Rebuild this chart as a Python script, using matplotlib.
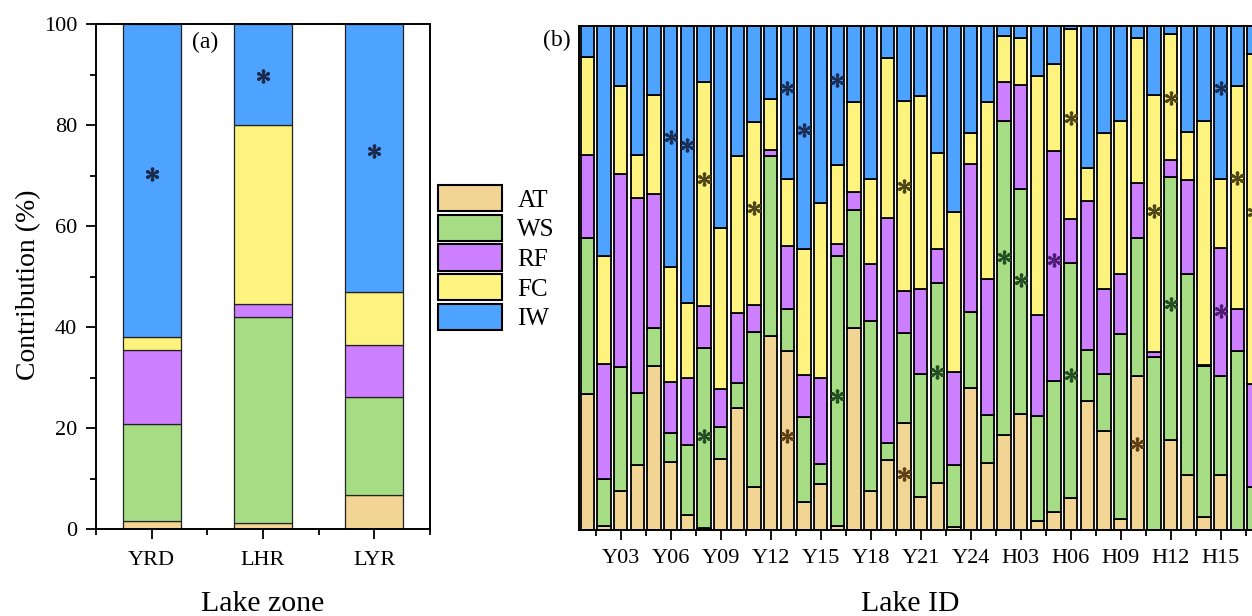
import numpy as np
import matplotlib
matplotlib.use("Agg")
import matplotlib.pyplot as plt
import matplotlib.patches as mpatches

plt.rcParams["font.family"] = ["Liberation Serif", "DejaVu Serif"]
plt.rcParams["mathtext.fontset"] = "stix"

factors = ["AT", "WS", "RF", "FC", "IW"]
colors = ["#F2D494", "#A6DD84", "#CC80FF", "#FFF380", "#4DA3FF"]
star_colors = {"AT": "#5e3f16", "WS": "#234d23", "RF": "#4e1c72",
               "FC": "#4f4618", "IW": "#1a2d55"}

# (a) lake zones, contribution (%) of each factor
zones = ["YRD", "LHR", "LYR"]
zone_AT = [1.6, 1.2, 6.8]
zone_WS = [19.2, 40.7, 19.4]
zone_RF = [14.6, 2.7, 10.2]
zone_FC = [2.6, 35.4, 10.5]
zone_IW = [62.0, 20.0, 53.1]
zone_star_factor = ["IW", "IW", "IW"]
zone_star_y = [70.2, 89.8, 74.8]

# (b) individual lakes
lakes = ["Y%02d" % i for i in range(1, 25)] + ["H%02d" % i for i in range(1, 18)]
lake_AT = [26.9, 0.8, 7.7, 12.8, 32.5, 13.4, 3.0, 0.3, 14.1, 24.3, 8.5, 38.4,
           35.6, 5.5, 9.1, 0.8, 40.0, 7.8, 13.9, 21.2, 6.5, 9.4, 0.5, 28.2,
           13.2, 18.8, 23.0, 1.8, 3.5, 6.3, 25.5, 19.7, 2.1, 30.6, 0.0, 17.9,
           10.9, 2.6, 10.9, 0.0, 0.0]
lake_WS = [31.0, 9.3, 24.6, 14.3, 7.6, 5.8, 13.9, 35.9, 6.4, 4.8, 30.7, 35.9,
           8.2, 16.9, 4.0, 53.6, 23.5, 33.7, 3.4, 17.8, 24.5, 39.6, 12.3, 15.0,
           9.6, 62.4, 44.6, 20.9, 26.1, 46.6, 10.3, 11.2, 36.7, 27.4, 34.3, 52.1,
           39.8, 29.9, 19.7, 35.6, 8.6]
lake_RF = [16.5, 22.8, 38.3, 38.8, 26.6, 10.2, 13.2, 8.2, 7.4, 13.9, 5.4, 1.1,
           12.6, 8.4, 17.1, 2.3, 3.6, 11.2, 44.7, 8.4, 16.8, 6.8, 18.6, 29.4,
           27.0, 7.7, 20.7, 20.0, 45.5, 8.8, 29.5, 16.9, 11.9, 10.8, 1.1, 3.4,
           18.7, 0.3, 25.3, 8.2, 20.3]
lake_FC = [19.5, 21.5, 17.4, 8.5, 19.7, 22.8, 15.0, 44.4, 32.0, 31.2, 36.4, 10.1,
           13.2, 24.9, 34.6, 15.7, 17.8, 16.9, 31.7, 37.7, 38.4, 19.1, 31.6, 6.1,
           35.1, 9.2, 9.3, 47.4, 17.3, 37.8, 6.5, 30.9, 30.5, 28.9, 50.9, 25.1,
           9.5, 48.4, 13.7, 44.3, 65.5]
lake_IW = [6.1, 45.6, 12.0, 25.6, 13.6, 47.8, 54.9, 11.2, 40.1, 25.8, 19.0, 14.5,
           30.4, 44.3, 35.2, 27.6, 15.1, 30.4, 6.3, 14.9, 13.8, 25.1, 37.0, 21.3,
           15.1, 1.9, 2.4, 9.9, 7.6, 0.5, 28.2, 21.3, 18.8, 2.3, 13.7, 1.5,
           21.1, 18.8, 30.4, 11.9, 5.6]
star_lake = ["Y06", "Y07", "Y08", "Y08", "Y11", "Y13", "Y13", "Y14", "Y16", "Y16",
             "Y20", "Y20", "Y22", "H02", "H03", "H05", "H06", "H06", "H10", "H11",
             "H12", "H12", "H15", "H15", "H16", "H17"]
star_factor = ["IW", "IW", "FC", "WS", "FC", "IW", "AT", "IW", "IW", "WS",
               "FC", "AT", "WS", "WS", "WS", "RF", "FC", "WS", "AT", "FC",
               "FC", "WS", "IW", "RF", "FC", "FC"]
star_y = [78.0, 76.3, 69.6, 18.7, 63.8, 87.6, 18.7, 79.4, 89.3, 26.6,
          68.3, 11.2, 31.4, 54.2, 49.6, 53.6, 81.7, 30.8, 17.1, 63.2,
          85.7, 44.8, 87.6, 43.5, 69.8, 63.0]

fig = plt.figure(figsize=(12.52, 6.16), dpi=100)
ax1 = fig.add_axes([96 / 1252, 1 - 529 / 616, 334 / 1252, 505 / 616])
ax2 = fig.add_axes([579 / 1252, 1 - 530 / 616, 673 / 1252, 504 / 616])

# ---- panel (a)
xa = np.arange(len(zones))
bottom = np.zeros(len(zones))
for vals, c in zip([zone_AT, zone_WS, zone_RF, zone_FC, zone_IW], colors):
    ax1.bar(xa, vals, 0.52, bottom=bottom, color=c, edgecolor="#222222", linewidth=0.9)
    bottom += np.array(vals)
for i, (f, y) in enumerate(zip(zone_star_factor, zone_star_y)):
    ax1.plot(i, y, marker="$*$", ms=9.5, color="#1b2a4a", ls="none")

ax1.set_xlim(-0.5, 2.5)
ax1.set_ylim(0, 100)
ax1.set_xticks(xa)
ax1.set_xticklabels(zones)
ax1.set_xticks([-0.5, 0.5, 1.5, 2.5], minor=True)
ax1.set_yticks(np.arange(0, 101, 20))
ax1.set_yticks(np.arange(10, 100, 20), minor=True)
ax1.tick_params(which="major", direction="out", length=7.5, width=1.3, labelsize=16)
ax1.tick_params(which="minor", direction="out", length=4, width=1.3)
ax1.tick_params(axis="x", pad=8)
ax1.tick_params(axis="y", pad=6)
for s in ax1.spines.values():
    s.set_linewidth(1.4)
ax1.set_ylabel("Contribution (%)", fontsize=20)
ax1.yaxis.set_label_coords(-0.165, 0.483)
ax1.set_xlabel("Lake zone", fontsize=21.5)
ax1.xaxis.set_label_coords(0.5, -0.122)
ax1.text(0.48, 96.4, "(a)", ha="center", va="center", fontsize=17)

# ---- panel (b)
xb = np.arange(len(lakes))
bottom = np.zeros(len(lakes))
for vals, c in zip([lake_AT, lake_WS, lake_RF, lake_FC, lake_IW], colors):
    ax2.bar(xb, vals, 0.8, bottom=bottom, color=c, edgecolor="black", linewidth=1.3)
    bottom += np.array(vals)
for name, f, y in zip(star_lake, star_factor, star_y):
    ax2.plot(lakes.index(name), y, marker="$*$", ms=9.5, color=star_colors[f], ls="none")

ax2.set_xlim(-0.5, 39.87)
ax2.set_ylim(0, 100)
major = np.arange(2, len(lakes), 3)
ax2.set_xticks(major)
ax2.set_xticklabels([lakes[i] for i in major])
ax2.set_xticks(np.arange(0.5, len(lakes), 3), minor=True)
ax2.set_yticks([])
ax2.tick_params(which="major", direction="out", length=7.5, width=1.3, labelsize=16, pad=6)
ax2.tick_params(which="minor", direction="out", length=4, width=1.3)
for s in ax2.spines.values():
    s.set_linewidth(1.4)
ax2.spines["right"].set_visible(False)
ax2.set_xlabel("Lake ID", fontsize=21.5)
ax2.xaxis.set_label_coords((910 - 579) / 673, -0.121)
fig.text(557 / 1252, 1 - 40 / 616, "(b)", ha="center", va="center", fontsize=17)

# legend
handles = [mpatches.Patch(facecolor=c, edgecolor="black", linewidth=1.5, label=f)
           for f, c in zip(factors, colors)]
fig.legend(handles=handles, loc="upper left", bbox_to_anchor=(438 / 1252, 1 - 185 / 616),
           frameon=False, fontsize=18, handlelength=2.55, handleheight=1.25,
           labelspacing=0.12, handletextpad=0.62, borderpad=0, borderaxespad=0)

fig.savefig("out.png", dpi=100)
